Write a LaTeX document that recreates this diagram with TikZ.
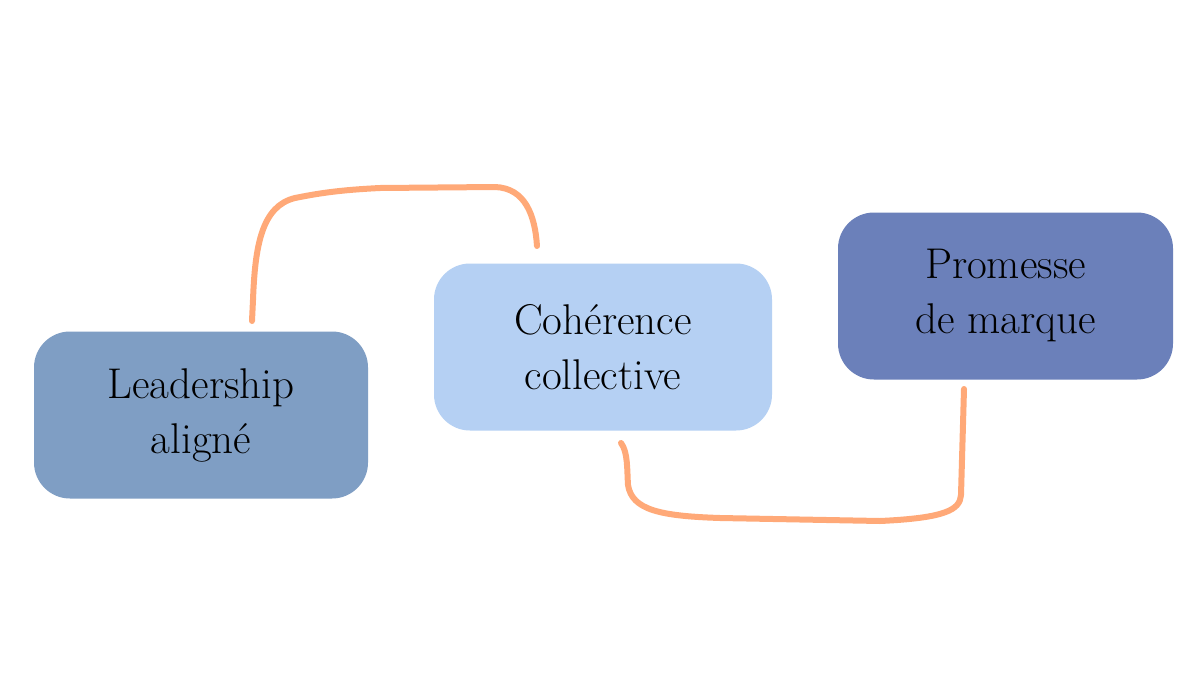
\documentclass[tikz,border=0pt]{standalone}
\usepackage{fontspec}
\usetikzlibrary{calc}
\definecolor{leadc}{RGB}{127,158,196}
\definecolor{cohc}{RGB}{181,208,243}
\definecolor{promc}{RGB}{107,128,186}
\definecolor{linkc}{RGB}{255,169,120}
\tikzset{
  box/.style={rounded corners=36pt, minimum width=#1, minimum height=167pt, inner sep=0pt,
    align=center, font=\fontsize{43}{55}\selectfont, text=black},
  link/.style={draw=linkc, line width=6pt, line cap=round, line join=round}
}
\begin{document}
\begin{tikzpicture}[x=1pt,y=-1pt]
\useasboundingbox (0,0) rectangle (1200,675);
\fill[white] (0,0) rectangle (1200,675);
\node[box=334pt, fill=leadc] (lead) at (201,415) {Leadership\\aligné};
\node[box=338pt, fill=cohc] (coh) at (603,347) {Cohérence\\collective};
\node[box=335pt, fill=promc] (prom) at (1005.5,296) {Promesse\\de marque};
\coordinate (a1) at (252,321);
\coordinate (a2) at (537,246);
\coordinate (b1) at (621,443);
\coordinate (b2) at (964,389);
\draw[link] (a1) -- (253,300) .. controls (255,245) and (262,206) .. (295,198)
  .. controls (320,193) and (340,190) .. (380,188) -- (495,187)
  .. controls (525,188) and (535,215) .. (a2);
\draw[link] (b1) .. controls (628,452) and (627,470) .. (628,485)
  .. controls (632,510) and (660,516) .. (720,518) -- (880,521)
  .. controls (945,518) and (960,510) .. (961,495) -- (b2);
\end{tikzpicture}
\end{document}
